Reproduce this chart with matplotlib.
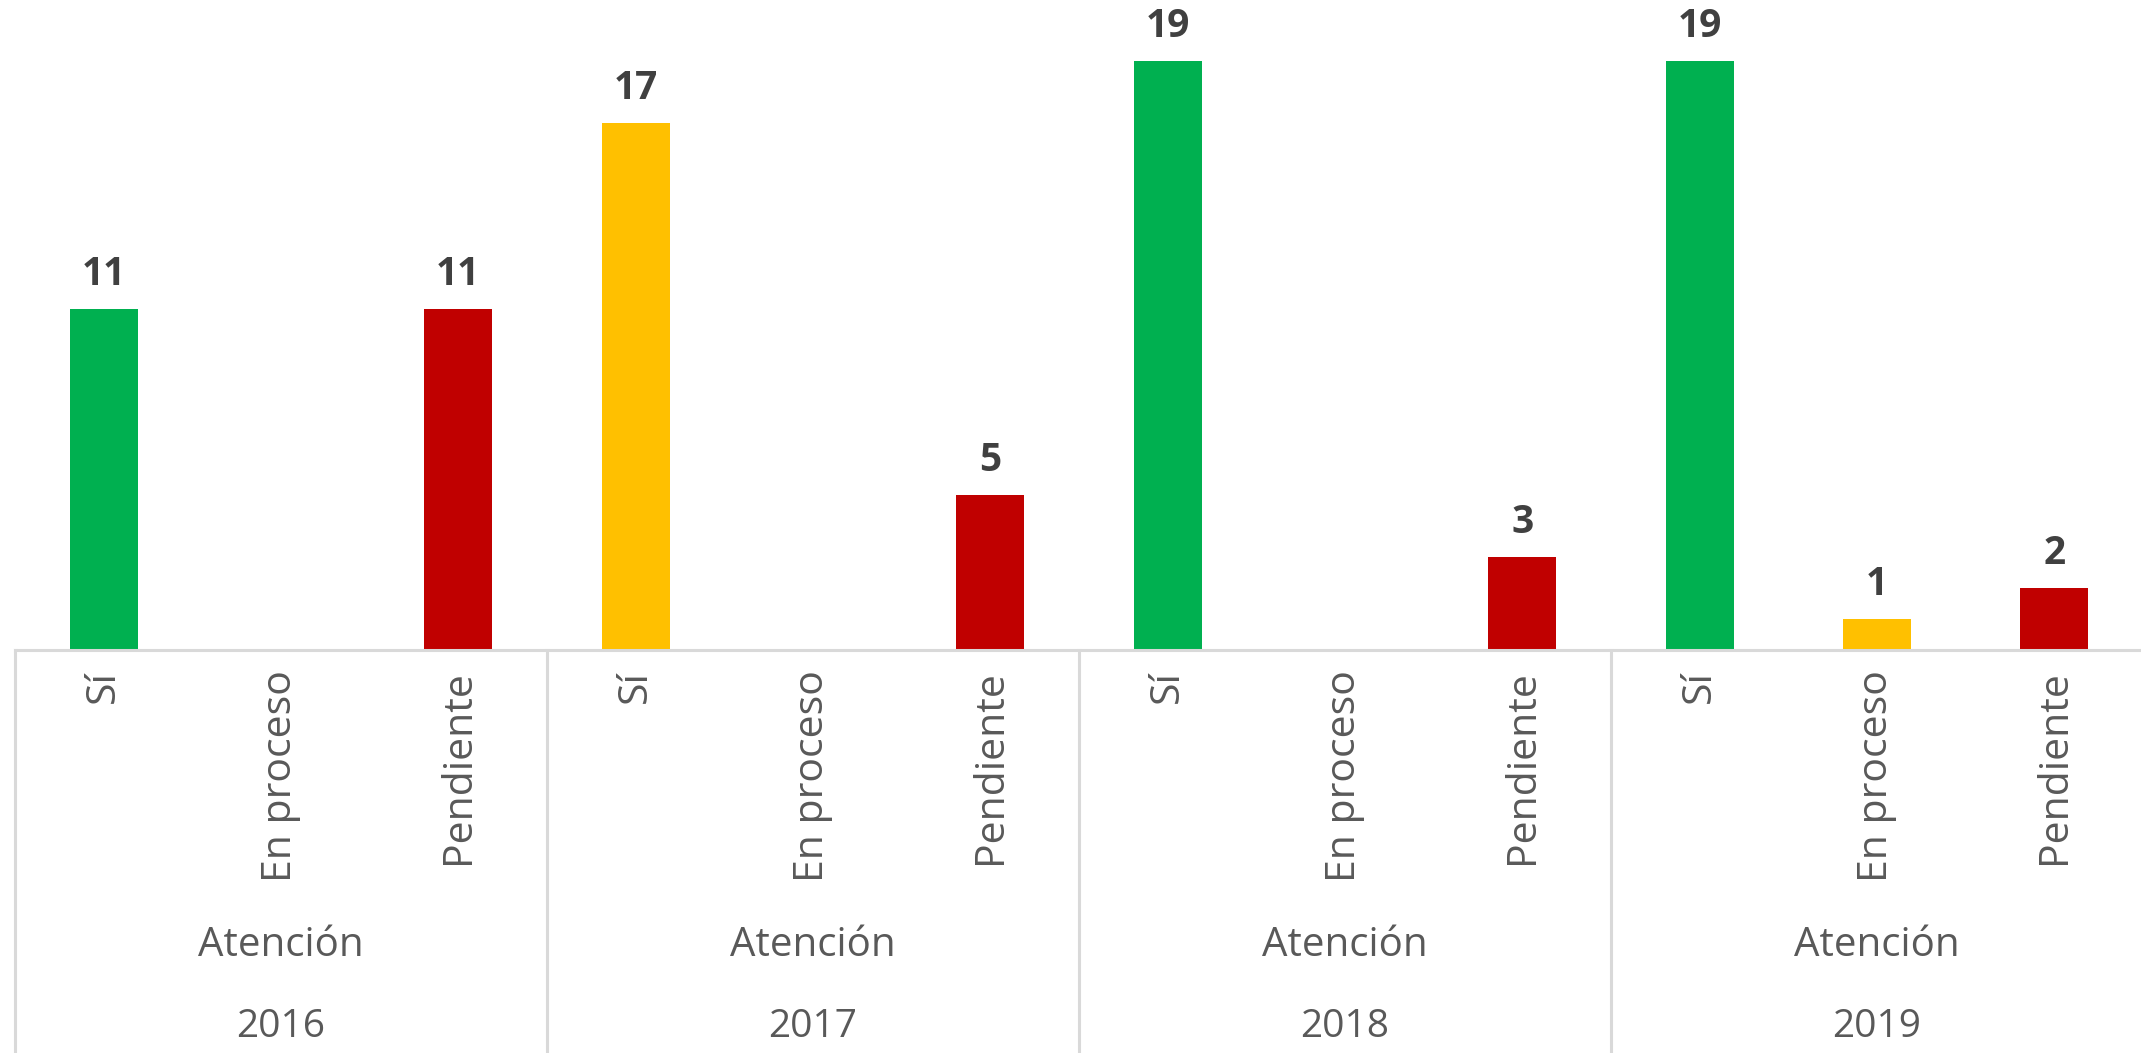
import matplotlib
matplotlib.use("Agg")
import matplotlib.pyplot as plt

years = ["2016", "2017", "2018", "2019"]
group_label = "Atención"
categories = ["Sí", "En proceso", "Pendiente"]
values = [11, 0, 11, 17, 0, 5, 19, 0, 3, 19, 1, 2]
bar_colors = ["#00B050", "#FFC000", "#C00000",
              "#FFC000", "#FFC000", "#C00000",
              "#00B050", "#FFC000", "#C00000",
              "#00B050", "#FFC000", "#C00000"]

W, H = 2141, 1053
fig = plt.figure(figsize=(W / 100, H / 100), dpi=100)
left_px, right_px, base_px, top_px = 15, 2143, 650, 30
ax = fig.add_axes([left_px / W, (H - base_px) / H, (right_px - left_px) / W, (base_px - top_px) / H])

n = len(values)
xs = list(range(n))
ax.bar(xs, values, width=0.385, color=bar_colors, zorder=2)
ax.set_xlim(-0.5, n - 0.5)
ax.set_ylim(0, 20)
ax.axis("off")

grid_col = "#D9D9D9"
ax.plot([-0.5, n - 0.5], [0, 0], color=grid_col, lw=2.2, clip_on=False, zorder=3)

ax_h_px = base_px - top_px
bottom_ax = -(H - base_px) / ax_h_px
for k in range(len(years) + 1):
    xb = -0.5 + 3 * k
    ax.plot([xb, xb], [0, bottom_ax], transform=ax.get_xaxis_transform(),
            color=grid_col, lw=2.2, clip_on=False)

font = "Open Sans"
lab_col = "#595959"
def yax(px_below):
    return -px_below / ax_h_px

for i, x in enumerate(xs):
    ax.text(x, yax(20), categories[i % 3], rotation=90, ha="center", va="top",
            transform=ax.get_xaxis_transform(), fontsize=29.5, color=lab_col, family=font)
    if values[i] > 0:
        ax.annotate(str(values[i]), (x, values[i]), xytext=(0, 25), textcoords="offset points",
                    ha="center", va="center", fontsize=28, fontweight="bold",
                    color="#404040", family=font, annotation_clip=False)

for g, yr in enumerate(years):
    xc = 3 * g + 1
    ax.text(xc, yax(946 - base_px), group_label, ha="center", va="center",
            transform=ax.get_xaxis_transform(), fontsize=29, color=lab_col, family=font)
    ax.text(xc, yax(1027 - base_px), yr, ha="center", va="center",
            transform=ax.get_xaxis_transform(), fontsize=28, color=lab_col, family=font)

fig.savefig("out.png", dpi=100)
